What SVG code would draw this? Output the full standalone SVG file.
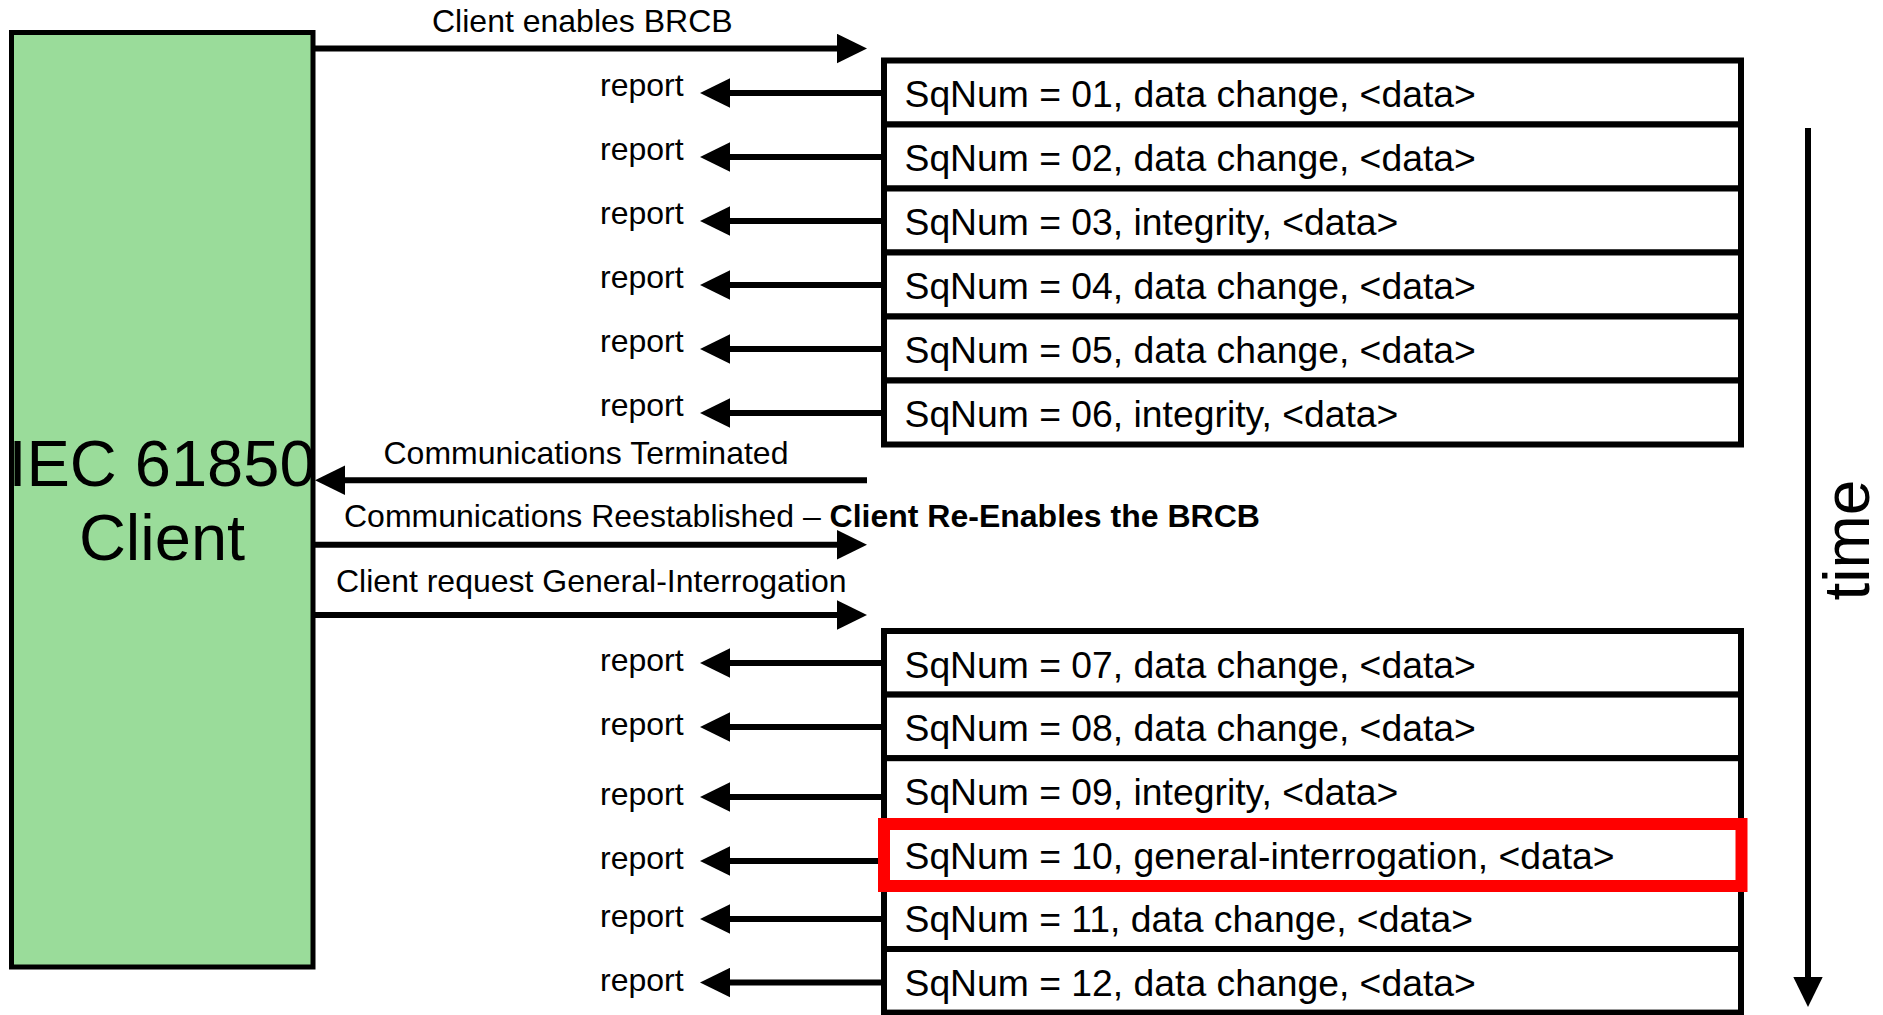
<svg xmlns="http://www.w3.org/2000/svg" width="1883" height="1015" viewBox="0 0 1883 1015">
<style>
text{font-family:"Liberation Sans",Arial,sans-serif;fill:#000}
.lbl{font-size:32px}
.rep{font-size:32px}
.sq{font-size:37.3px}
.row{fill:#fff;stroke:#000;stroke-width:6}
.conn{stroke:#000;stroke-width:6;fill:none;marker-end:url(#ah)}
</style>
<defs>
<marker id="ah" viewBox="0 0 30 30" refX="10" refY="15" markerWidth="30" markerHeight="30" markerUnits="userSpaceOnUse" orient="auto">
<path d="M0,0.3 L30,15 L0,29.7 Z" fill="#000"/>
</marker>
</defs>
<rect width="1883" height="1015" fill="#fff"/>

<g id="client">
<rect x="11.5" y="32.5" width="301.5" height="934.5" fill="#9ADC9A" stroke="#000" stroke-width="5"/>
<text x="162" y="486" font-size="65" text-anchor="middle">IEC 61850</text>
<text x="162" y="560" font-size="65" text-anchor="middle">Client</text>
</g>

<g id="rows-1">
<g id="sq01"><rect class="row" x="884" y="60.5" width="857" height="64"/><text class="sq" x="904.5" y="106.5">SqNum = 01, data change, &lt;data&gt;</text></g>
<g id="sq02"><rect class="row" x="884" y="124.5" width="857" height="64"/><text class="sq" x="904.5" y="170.5">SqNum = 02, data change, &lt;data&gt;</text></g>
<g id="sq03"><rect class="row" x="884" y="188.5" width="857" height="64"/><text class="sq" x="904.5" y="234.5">SqNum = 03, integrity, &lt;data&gt;</text></g>
<g id="sq04"><rect class="row" x="884" y="252.5" width="857" height="64"/><text class="sq" x="904.5" y="298.5">SqNum = 04, data change, &lt;data&gt;</text></g>
<g id="sq05"><rect class="row" x="884" y="316.5" width="857" height="64"/><text class="sq" x="904.5" y="362.5">SqNum = 05, data change, &lt;data&gt;</text></g>
<g id="sq06"><rect class="row" x="884" y="380.5" width="857" height="64"/><text class="sq" x="904.5" y="426.5">SqNum = 06, integrity, &lt;data&gt;</text></g>
</g>

<g id="rows-2">
<g id="sq07"><rect class="row" x="884" y="631" width="857" height="63.6"/><text class="sq" x="904.5" y="677.5">SqNum = 07, data change, &lt;data&gt;</text></g>
<g id="sq08"><rect class="row" x="884" y="694.6" width="857" height="63.6"/><text class="sq" x="904.5" y="741.1">SqNum = 08, data change, &lt;data&gt;</text></g>
<g id="sq09"><rect class="row" x="884" y="758.2" width="857" height="63.6"/><text class="sq" x="904.5" y="804.7">SqNum = 09, integrity, &lt;data&gt;</text></g>
<g id="sq11"><rect class="row" x="884" y="885.4" width="857" height="63.6"/><text class="sq" x="904.5" y="931.9">SqNum = 11, data change, &lt;data&gt;</text></g>
<g id="sq12"><rect class="row" x="884" y="949" width="857" height="63.6"/><text class="sq" x="904.5" y="995.5">SqNum = 12, data change, &lt;data&gt;</text></g>
<g id="sq10"><rect x="884" y="824" width="857.5" height="62" fill="#fff" stroke="#FF0000" stroke-width="12"/><text class="sq" x="904.5" y="868.5">SqNum = 10, general-interrogation, &lt;data&gt;</text></g>
</g>

<g id="connectors">
<path class="conn" d="M313,48.5 H847"/>
<path class="conn" d="M884,93 H720"/>
<path class="conn" d="M884,157 H720"/>
<path class="conn" d="M884,221 H720"/>
<path class="conn" d="M884,285 H720"/>
<path class="conn" d="M884,349 H720"/>
<path class="conn" d="M884,413 H720"/>
<path class="conn" d="M867,480.3 H335"/>
<path class="conn" d="M313,544.7 H847"/>
<path class="conn" d="M313,615 H847"/>
<path class="conn" d="M884,663 H720"/>
<path class="conn" d="M884,727 H720"/>
<path class="conn" d="M884,797 H720"/>
<path class="conn" d="M878,861 H720"/>
<path class="conn" d="M884,919 H720"/>
<path class="conn" d="M884,982.5 H720"/>
<path class="conn" d="M1808,128 V987"/>
</g>

<g id="labels">
<text class="lbl" x="432" y="32">Client enables BRCB</text>
<text class="lbl" x="383.5" y="463.5">Communications Terminated</text>
<text class="lbl" x="344" y="527">Communications Reestablished – <tspan font-weight="bold">Client Re-Enables the BRCB</tspan></text>
<text class="lbl" x="336" y="591.5">Client request General-Interrogation</text>
<text class="rep" x="600" y="95.5">report</text>
<text class="rep" x="600" y="159.5">report</text>
<text class="rep" x="600" y="223.5">report</text>
<text class="rep" x="600" y="287.5">report</text>
<text class="rep" x="600" y="351.5">report</text>
<text class="rep" x="600" y="415.5">report</text>
<text class="rep" x="600" y="671">report</text>
<text class="rep" x="600" y="735">report</text>
<text class="rep" x="600" y="805">report</text>
<text class="rep" x="600" y="869">report</text>
<text class="rep" x="600" y="927">report</text>
<text class="rep" x="600" y="990.5">report</text>
</g>

<g id="time">
<text x="0" y="0" font-size="64" text-anchor="middle" transform="translate(1869,540) rotate(-90)">time</text>
</g>
</svg>
